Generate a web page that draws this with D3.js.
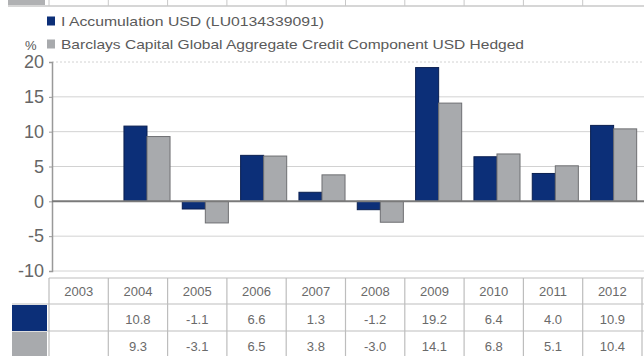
<!DOCTYPE html>
<html>
<head>
<meta charset="utf-8">
<script src="https://cdnjs.cloudflare.com/ajax/libs/d3/7.8.5/d3.min.js"></script>
<style>
  html, body { margin: 0; padding: 0; background: #fff; }
  svg { display: block; }
  text { font-family: "Liberation Sans", Arial, sans-serif; }
</style>
</head>
<body>
<svg id="chart" width="644" height="356"></svg>
<script>
// ---- data ----
const years = ["2003","2004","2005","2006","2007","2008","2009","2010","2011","2012"];
const fundValues = [null, 10.8, -1.1, 6.6, 1.3, -1.2, 19.2, 6.4, 4.0, 10.9];
const indexValues = [null, 9.3, -3.1, 6.5, 3.8, -3.0, 14.1, 6.8, 5.1, 10.4];
const fundLabels = ["", "10.8", "-1.1", "6.6", "1.3", "-1.2", "19.2", "6.4", "4.0", "10.9"];
const indexLabels = ["", "9.3", "-3.1", "6.5", "3.8", "-3.0", "14.1", "6.8", "5.1", "10.4"];
const seriesNames = ["I Accumulation USD (LU0134339091)", "Barclays Capital Global Aggregate Credit Component USD Hedged"];
const yTicks = [-10, -5, 0, 5, 10, 15, 20];

const colors = ["#0c2f78", "#a8aaad"];
const strokes = ["#0a1f50", "#6e6f72"];
const legendWidths = [263, 463];

const svg = d3.select("#chart");

// scales
const y = d3.scaleLinear().domain([-10, 20]).range([271, 62]);
const x = d3.scaleBand().domain(years).range([59.5, 642.8]).paddingInner(0.21).paddingOuter(0.105);
const xs = d3.scaleBand().domain([0, 1]).range([0, x.bandwidth()]);
const xt = d3.scaleBand().domain(years).range([49, 642]);

// top remnant strip
svg.append("rect").attr("x", 8).attr("y", 0).attr("width", 37).attr("height", 5).attr("fill", "#b0b1b3");
svg.append("line").attr("x1", 8).attr("x2", 644).attr("y1", 6).attr("y2", 6).attr("stroke", "#c8c8c8").attr("stroke-width", 1.5);
svg.selectAll(".topv").data(years).enter().append("line")
  .attr("x1", d => xt(d)).attr("x2", d => xt(d)).attr("y1", 0).attr("y2", 6)
  .attr("stroke", "#c8c8c8");

// legend
const leg = svg.append("g");
seriesNames.forEach((n, i) => {
  const cy = 21 + i * 23;
  leg.append("rect").attr("x", 47).attr("y", cy - 4.5).attr("width", 8).attr("height", 9)
    .attr("fill", colors[i]);
  leg.append("text").attr("x", 61).attr("y", cy).attr("dy", "0.35em")
    .attr("font-size", 13).attr("fill", "#5a5a5a")
    .attr("textLength", legendWidths[i]).attr("lengthAdjust", "spacingAndGlyphs")
    .text(n);
});
svg.append("text").attr("x", 25).attr("y", 45).attr("dy", "0.35em")
  .attr("font-size", 13).attr("fill", "#555").text("%");

// gridlines
svg.selectAll(".grid").data(yTicks.filter(t => t !== 0)).enter().append("line")
  .attr("x1", 52).attr("x2", 644)
  .attr("y1", d => y(d)).attr("y2", d => y(d))
  .attr("stroke", "#d2d2d2").attr("stroke-width", 1)
  .attr("stroke-dasharray", d => d === 20 ? "2,2" : null);

// y axis
const yAxis = d3.axisLeft(y).tickValues(yTicks).tickSize(3).tickPadding(5).tickFormat(d => String(d));
const ga = svg.append("g").attr("transform", "translate(52,0)").call(yAxis);
ga.select(".domain").attr("stroke", "#999").attr("stroke-width", 1.5);
ga.selectAll(".tick line").attr("stroke", "#999");
ga.selectAll(".tick text").attr("font-size", 18).attr("fill", "#666").attr("font-family", "Liberation Sans, Arial, sans-serif");

// bars
const seriesData = [fundValues, indexValues];
seriesData.forEach((vals, si) => {
  svg.append("g").selectAll("rect").data(years.map((yr, i) => ({yr, v: vals[i]})).filter(d => d.v !== null))
    .enter().append("rect")
    .attr("x", d => x(d.yr) + xs(si))
    .attr("width", xs.bandwidth())
    .attr("y", d => y(Math.max(0, d.v)))
    .attr("height", d => Math.abs(y(d.v) - y(0)))
    .attr("fill", colors[si])
    .attr("stroke", strokes[si]).attr("stroke-width", 1);
});

// zero line
svg.append("line").attr("x1", 52).attr("x2", 644).attr("y1", y(0)).attr("y2", y(0))
  .attr("stroke", "#7a7a7a").attr("stroke-width", 2);

// table
const tTop = 278, r1 = 304, r2 = 331, tBot = 356;
const tg = svg.append("g");
[tTop, r1, r2].forEach(yy => {
  tg.append("line").attr("x1", yy === tTop ? 49 : 12).attr("x2", 644).attr("y1", yy).attr("y2", yy)
    .attr("stroke", "#bdbdbd").attr("stroke-width", 1.2);
});
tg.selectAll(".vl").data(years.concat(["end"])).enter().append("line")
  .attr("x1", d => d === "end" ? 642 : xt(d)).attr("x2", d => d === "end" ? 642 : xt(d))
  .attr("y1", tTop).attr("y2", tBot).attr("stroke", "#bdbdbd").attr("stroke-width", 1.2);
tg.append("rect").attr("x", 12).attr("y", r1 + 1).attr("width", 35).attr("height", r2 - r1 - 1).attr("fill", colors[0]);
tg.append("rect").attr("x", 12).attr("y", r2 + 1).attr("width", 35).attr("height", tBot - r2).attr("fill", colors[1]);

const rowsText = [years, fundLabels, indexLabels];
const rowsY = [291.5, 319, 346];
rowsText.forEach((row, ri) => {
  tg.selectAll(".t" + ri).data(row.map((t, i) => ({t, yr: years[i]}))).enter().append("text")
    .attr("x", d => xt(d.yr) + xt.bandwidth() / 2)
    .attr("y", rowsY[ri]).attr("dy", "0.35em")
    .attr("text-anchor", "middle").attr("font-size", 13).attr("fill", "#6a6a6a")
    .text(d => d.t);
});
</script>
</body>
</html>
